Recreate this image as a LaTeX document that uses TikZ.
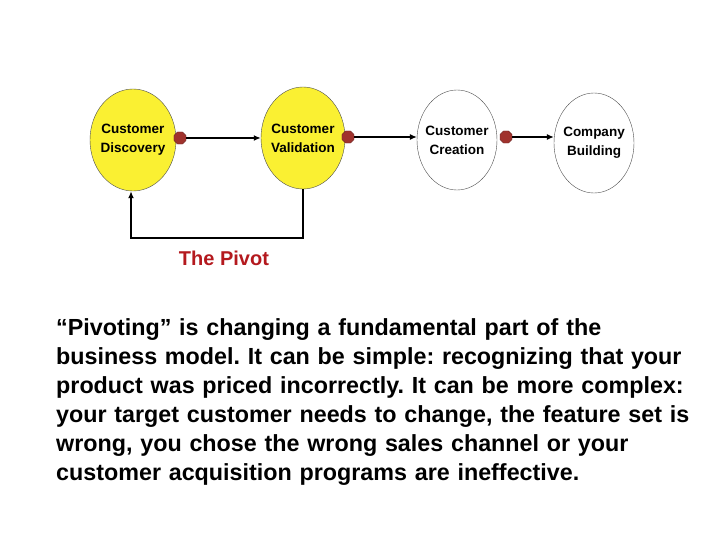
\documentclass[tikz,border=0pt]{standalone}
\usepackage{fontspec}
\setmainfont{Liberation Sans}
\usetikzlibrary{arrows.meta,shapes.geometric}
\definecolor{yel}{RGB}{250,240,50}
\definecolor{stopred}{RGB}{160,50,45}
\definecolor{pivred}{RGB}{180,25,30}
\tikzset{
 stage/.style={ellipse,draw=black!70,thin,minimum width=#1,minimum height=102pt,inner sep=-8pt,align=center,font=\bfseries\fontsize{13.5}{19}\selectfont},
 stopsign/.style={regular polygon,regular polygon sides=8,fill=stopred,draw=stopred!70!black,minimum size=13pt,inner sep=0pt},
 flow/.style={-{Latex[length=7pt,width=6pt]},line width=1.6pt},
 flowthin/.style={-{Latex[length=7pt,width=6pt]},line width=1.1pt}
}
\begin{document}
\frenchspacing
\begin{tikzpicture}[x=1pt,y=-1pt]
\useasboundingbox (0,0) rectangle (720,540);
\node[stage=86pt,fill=yel] (d) at (133,140) {Customer\\Discovery};
\node[stage=84pt,fill=yel] (v) at (303,138) {Customer\\Validation};
\node[stage=80pt,minimum height=100pt] (c) at (457,140) {Customer\\Creation};
\node[stage=80pt,minimum height=100pt] (b) at (594,143) {Company\\Building};
\node[stopsign] (s1) at (180,138) {};
\node[stopsign] (s2) at (348,137) {};
\node[stopsign] (s3) at (506,137) {};
\draw[flow] (s1.east) -- (v.west |- s1.east);
\draw[flowthin] (s2.east) -- (c.west |- s2.east);
\draw[flowthin] (s3.east) -- (b.west |- s3.east);
\coordinate (l1) at (303,238);
\coordinate (l2) at (131,238);
\draw[flow] (v.south) -- (l1) -- (l2) -- (d.south -| l2);
\node[font=\bfseries\fontsize{20}{24}\selectfont,text=pivred] (p) at (224,258) {The Pivot};
\node[anchor=north west,text width=680pt,align=left,inner sep=0pt,font=\bfseries\fontsize{23.3}{29}\selectfont] (t) at (56,318) {“Pivoting” is changing a fundamental part of the\\business model. It can be simple: recognizing that your\\product was priced incorrectly. It can be more complex:\\your target customer needs to change, the feature set is\\wrong, you chose the wrong sales channel or your\\customer acquisition programs are ineffective.};
\end{tikzpicture}
\end{document}
